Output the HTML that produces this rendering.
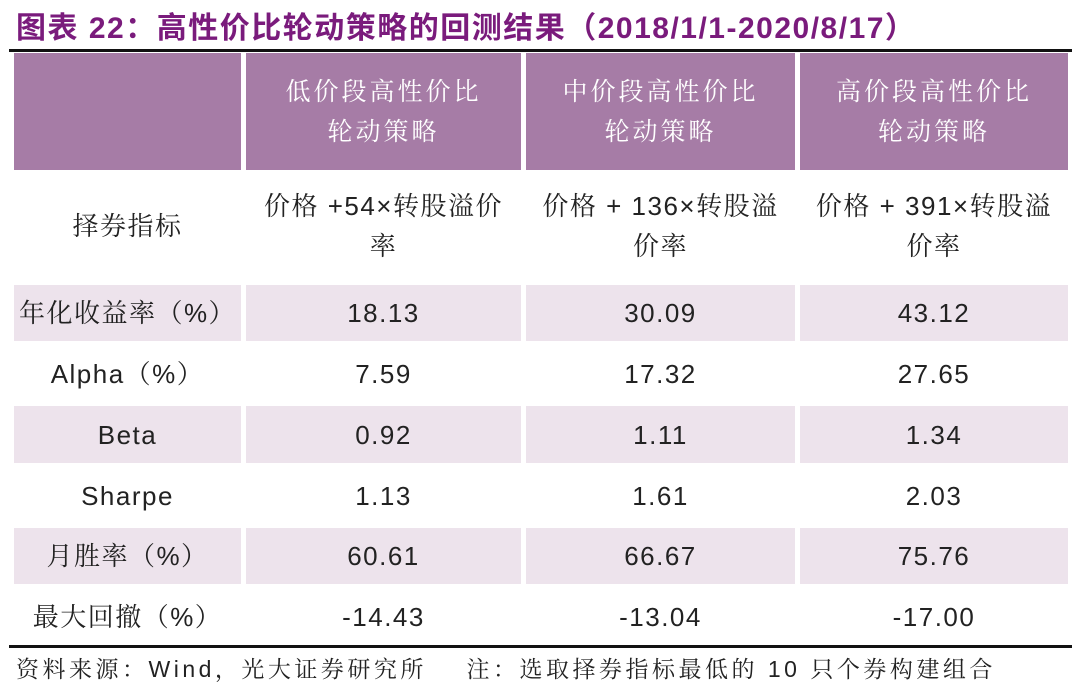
<!DOCTYPE html>
<html><head><meta charset="utf-8"><style>
body{margin:0;width:1080px;height:694px;background:#fff;position:relative;overflow:hidden;font-family:"Liberation Sans","Noto Serif CJK SC",serif;}
.t{position:absolute;left:16px;top:3px;font-size:30px;font-weight:bold;color:#7a1b7c;white-space:nowrap;letter-spacing:1.5px;font-family:"Liberation Sans","Noto Sans CJK SC",sans-serif;}
.line{position:absolute;left:9px;width:1063px;height:3px;background:#111;}
.c{position:absolute;display:flex;align-items:center;justify-content:center;text-align:center;font-size:26px;color:#222;line-height:40px;letter-spacing:1.5px;font-family:"Liberation Sans","Noto Serif CJK SC",serif;}
.h{background:#a67ca6;color:#fff;font-size:25px;letter-spacing:3px;}
.p{background:#ede3ec;}
.f{position:absolute;left:16px;top:651px;font-size:23px;color:#222;white-space:nowrap;letter-spacing:3.5px;font-family:"Liberation Sans","Noto Serif CJK SC",serif;}
</style></head><body>
<div class="t">图表 22：高性价比轮动策略的回测结果（2018/1/1-2020/8/17）</div>
<div class="line" style="top:49px"></div>
<div class="c h" style="left:14px;top:53px;width:227px;height:117px"></div>
<div class="c h" style="left:246px;top:53px;width:275px;height:117px">低价段高性价比<br>轮动策略</div>
<div class="c h" style="left:526px;top:53px;width:269px;height:117px">中价段高性价比<br>轮动策略</div>
<div class="c h" style="left:800px;top:53px;width:268px;height:117px">高价段高性价比<br>轮动策略</div>

<div class="c" style="left:14px;top:170px;width:227px;height:112px">择券指标</div>
<div class="c" style="left:246px;top:170px;width:275px;height:112px">价格 +54×转股溢价<br>率</div>
<div class="c" style="left:526px;top:170px;width:269px;height:112px">价格 + 136×转股溢<br>价率</div>
<div class="c" style="left:800px;top:170px;width:268px;height:112px">价格 + 391×转股溢<br>价率</div>

<div class="c p" style="left:14px;top:285px;width:227px;height:56px">年化收益率（%）</div>
<div class="c p" style="left:246px;top:285px;width:275px;height:56px">18.13</div>
<div class="c p" style="left:526px;top:285px;width:269px;height:56px">30.09</div>
<div class="c p" style="left:800px;top:285px;width:268px;height:56px">43.12</div>

<div class="c" style="left:14px;top:345px;width:227px;height:58px">Alpha（%）</div>
<div class="c" style="left:246px;top:345px;width:275px;height:58px">7.59</div>
<div class="c" style="left:526px;top:345px;width:269px;height:58px">17.32</div>
<div class="c" style="left:800px;top:345px;width:268px;height:58px">27.65</div>

<div class="c p" style="left:14px;top:406px;width:227px;height:57px">Beta</div>
<div class="c p" style="left:246px;top:406px;width:275px;height:57px">0.92</div>
<div class="c p" style="left:526px;top:406px;width:269px;height:57px">1.11</div>
<div class="c p" style="left:800px;top:406px;width:268px;height:57px">1.34</div>

<div class="c" style="left:14px;top:467px;width:227px;height:58px">Sharpe</div>
<div class="c" style="left:246px;top:467px;width:275px;height:58px">1.13</div>
<div class="c" style="left:526px;top:467px;width:269px;height:58px">1.61</div>
<div class="c" style="left:800px;top:467px;width:268px;height:58px">2.03</div>

<div class="c p" style="left:14px;top:528px;width:227px;height:56px">月胜率（%）</div>
<div class="c p" style="left:246px;top:528px;width:275px;height:56px">60.61</div>
<div class="c p" style="left:526px;top:528px;width:269px;height:56px">66.67</div>
<div class="c p" style="left:800px;top:528px;width:268px;height:56px">75.76</div>

<div class="c" style="left:14px;top:588px;width:227px;height:57px">最大回撤（%）</div>
<div class="c" style="left:246px;top:588px;width:275px;height:57px">-14.43</div>
<div class="c" style="left:526px;top:588px;width:269px;height:57px">-13.04</div>
<div class="c" style="left:800px;top:588px;width:268px;height:57px">-17.00</div>

<div class="line" style="top:645px"></div>
<div class="f">资料来源：Wind，光大证券研究所 &nbsp;&nbsp;&nbsp;注：选取择券指标最低的 10 只个券构建组合</div>
</body></html>
